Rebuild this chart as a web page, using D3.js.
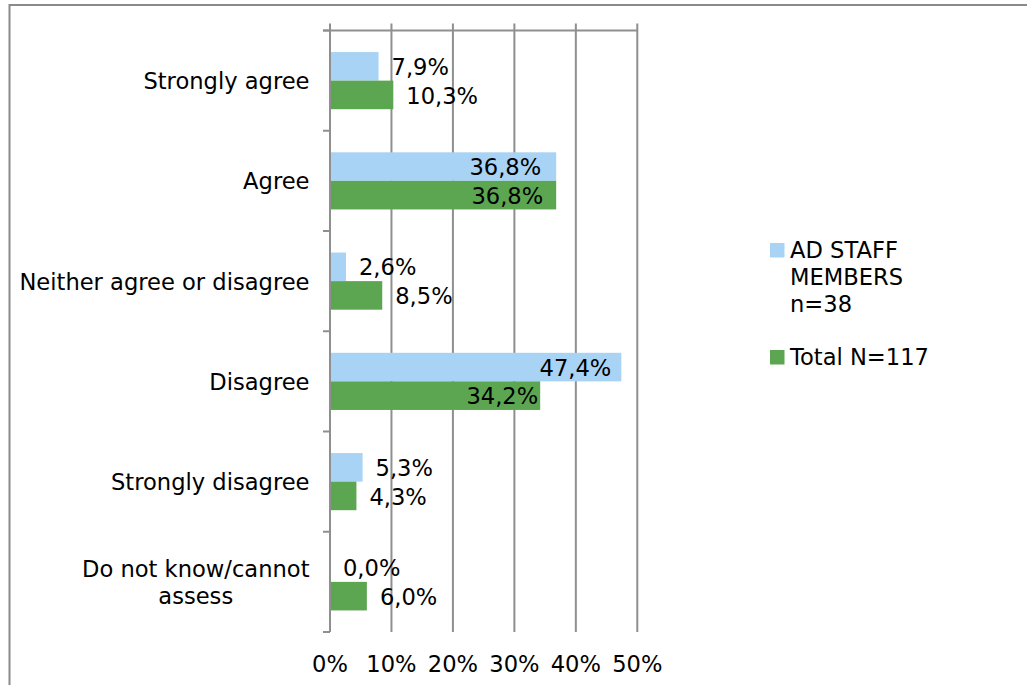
<!DOCTYPE html>
<html>
<head>
<meta charset="utf-8">
<script src="https://cdn.jsdelivr.net/npm/d3@7"></script>
<style>
  html, body { margin: 0; padding: 0; background: #fff; }
  svg { display: block; }
  text { font-family: "DejaVu Sans", Verdana, sans-serif; fill: #000; }
</style>
</head>
<body>
<svg id="chart" width="1027" height="685"></svg>
<script>
// ---- data ----
const categories = ["Strongly agree", "Agree", "Neither agree or disagree", "Disagree", "Strongly disagree", "Do not know/cannot assess"];
const seriesNames = ["AD STAFF MEMBERS n=38", "Total N=117"];
const adStaff = [7.9, 36.8, 2.6, 47.4, 5.3, 0.0];
const total = [10.3, 36.8, 8.5, 34.2, 4.3, 6.0];
const tickValues = [0, 10, 20, 30, 40, 50];
const colors = ["#A9D3F4", "#5CA651"];

// ---- layout ----
const svg = d3.select("#chart");
const plot = { left: 330, right: 637.3, top: 30.5, bottom: 632 };
const fontSize = 22.6;
const baseDy = 8.6;

// outer chart border (extends beyond the visible frame on right and bottom)
svg.append("rect")
  .attr("x", 9.5).attr("y", 5).attr("width", 1040).attr("height", 700)
  .attr("fill", "none").attr("stroke", "#8a8a8a").attr("stroke-width", 2);

const x = d3.scaleLinear().domain([0, 50]).range([plot.left, plot.right]);
const y = d3.scaleBand().domain(categories).range([plot.top, plot.bottom]).paddingInner(0).paddingOuter(0);
const barPad = 0.215;
const ySub = d3.scaleBand().domain([0, 1]).range([y.bandwidth() * barPad, y.bandwidth() * (1 - barPad)]);

const gridColor = "#8f8f8f";

// vertical gridlines
svg.append("g").selectAll("line").data(tickValues.slice(1)).join("line")
  .attr("x1", d => x(d)).attr("x2", d => x(d))
  .attr("y1", plot.top - 7).attr("y2", plot.bottom)
  .attr("stroke", gridColor).attr("stroke-width", 2);

// top horizontal axis line
svg.append("line")
  .attr("x1", plot.left - 7).attr("x2", plot.right)
  .attr("y1", plot.top).attr("y2", plot.top)
  .attr("stroke", gridColor).attr("stroke-width", 2);

// bars
const seriesData = [adStaff, total];
seriesData.forEach((vals, si) => {
  svg.append("g").selectAll("rect").data(vals).join("rect")
    .attr("x", x(0))
    .attr("y", (d, i) => y(categories[i]) + ySub(si))
    .attr("width", d => x(d) - x(0))
    .attr("height", ySub.bandwidth())
    .attr("fill", colors[si]);
});

// category axis line + ticks
svg.append("line")
  .attr("x1", plot.left).attr("x2", plot.left)
  .attr("y1", plot.top - 7).attr("y2", plot.bottom)
  .attr("stroke", gridColor).attr("stroke-width", 2);
const bounds = categories.map(c => y(c)).concat([plot.bottom]);
svg.append("g").selectAll("line").data(bounds).join("line")
  .attr("x1", plot.left - 7).attr("x2", plot.left)
  .attr("y1", d => d).attr("y2", d => d)
  .attr("stroke", gridColor).attr("stroke-width", 2);

// measuring helper
const measurer = svg.append("text").attr("font-size", fontSize).attr("visibility", "hidden");
function textW(s) { measurer.text(s); return measurer.node().getComputedTextLength(); }
function wrap(s, maxW) {
  const words = s.split(" ");
  const lines = [];
  let cur = "";
  words.forEach(w => {
    const t = cur ? cur + " " + w : w;
    if (cur && textW(t) > maxW) { lines.push(cur); cur = w; } else { cur = t; }
  });
  if (cur) lines.push(cur);
  return lines;
}

// category labels
const lineH = 27;
categories.forEach(c => {
  const lines = wrap(c, 296);
  const maxW = d3.max(lines, l => textW(l));
  const cx = 309.5 - maxW / 2;
  const cy = y(c) + y.bandwidth() / 2;
  const t = svg.append("text").attr("font-size", fontSize).attr("text-anchor", "middle");
  lines.forEach((l, i) => {
    t.append("tspan").attr("x", cx)
      .attr("y", cy + baseDy + (i - (lines.length - 1) / 2) * lineH)
      .text(l);
  });
});

// value tick labels
svg.append("g").selectAll("text").data(tickValues).join("text")
  .attr("x", d => x(d)).attr("y", 671.5)
  .attr("font-size", fontSize).attr("text-anchor", "middle")
  .text(d => d + "%");

// data labels
const fmt = v => v.toFixed(1).replace(".", ",") + "%";
const insideGap = [[0, 15, 0, 10, 0, 0], [0, 13, 0, 2, 0, 0]];
seriesData.forEach((vals, si) => {
  svg.append("g").selectAll("text").data(vals).join("text")
    .attr("font-size", fontSize)
    .attr("x", (d, i) => d > 20 ? x(d) - insideGap[si][i] : x(d) + 13)
    .attr("text-anchor", d => d > 20 ? "end" : "start")
    .attr("y", (d, i) => y(categories[i]) + ySub(si) + ySub.bandwidth() / 2 + baseDy)
    .text(d => fmt(d));
});

// legend
const legX = 770, legTextX = 790;
const legY = [257.5, 364.5];
seriesNames.forEach((name, si) => {
  const lines = wrap(name, 142);
  svg.append("rect").attr("x", legX).attr("y", legY[si] - 14.5)
    .attr("width", 14.5).attr("height", 14.5).attr("fill", colors[si]);
  const t = svg.append("text").attr("font-size", fontSize);
  lines.forEach((l, i) => {
    t.append("tspan").attr("x", legTextX).attr("y", legY[si] + i * lineH).text(l);
  });
});
measurer.remove();
</script>
</body>
</html>
